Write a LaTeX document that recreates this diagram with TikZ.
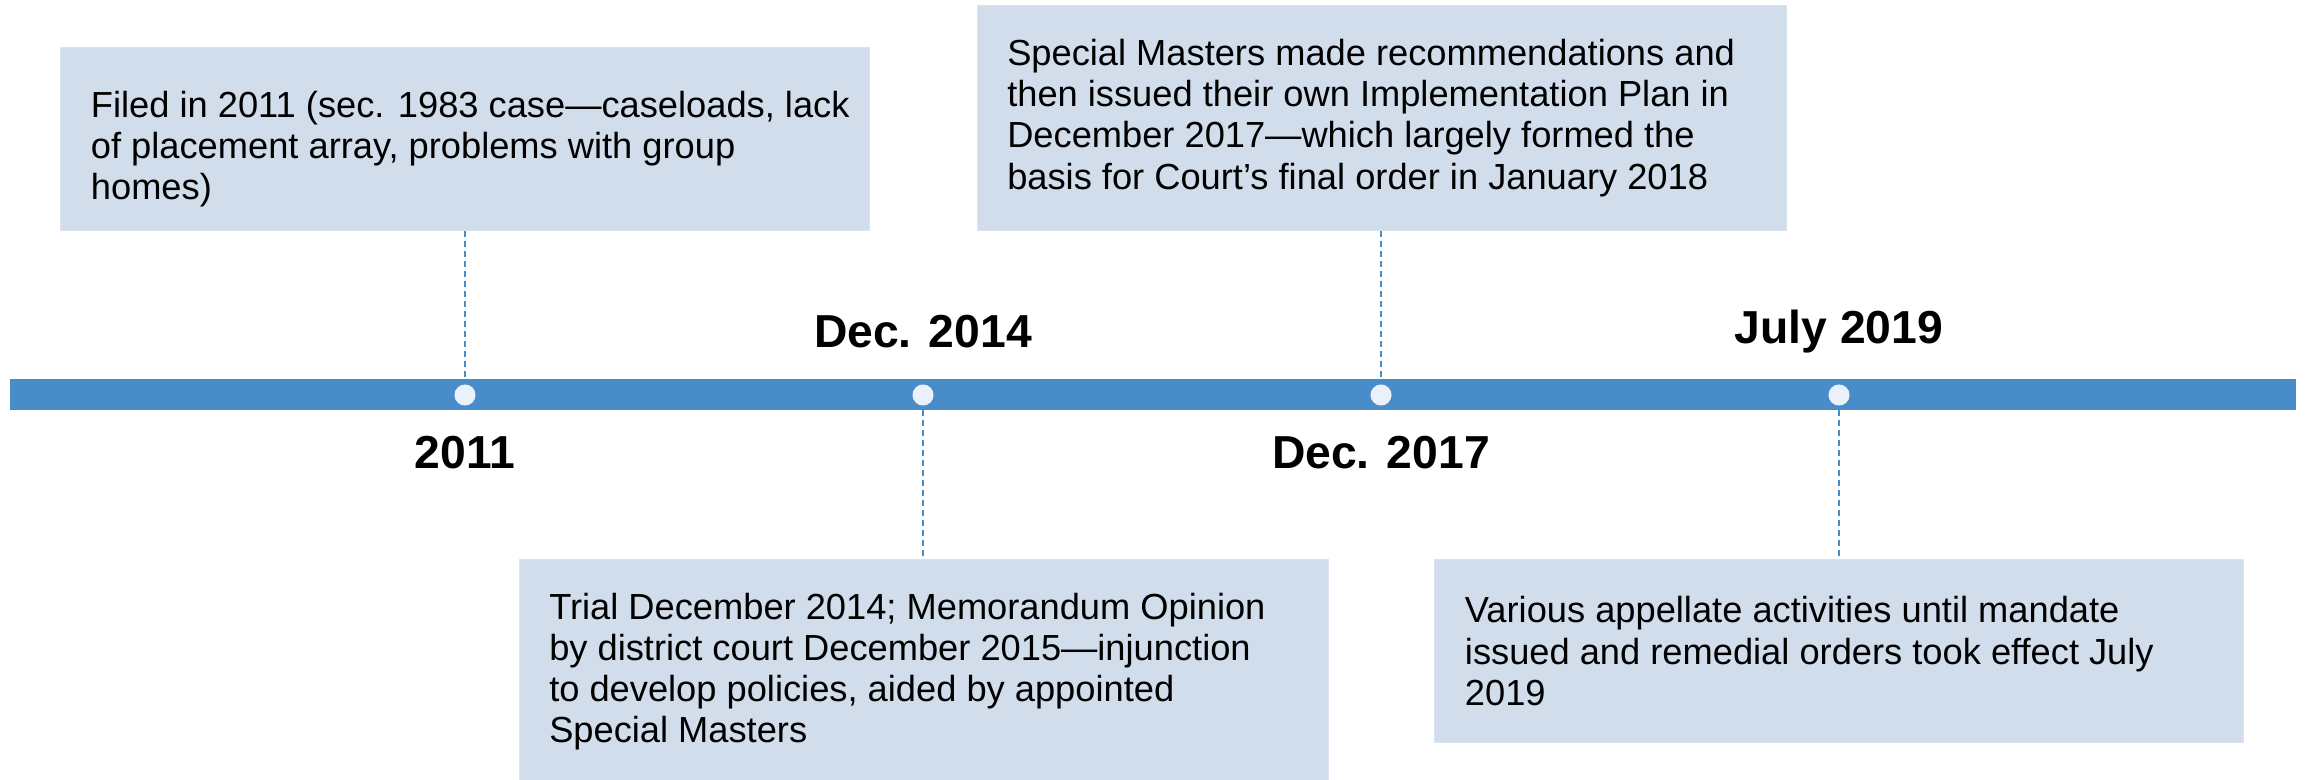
\documentclass[tikz,border=0pt]{standalone}
\usepackage{fontspec}
\setmainfont{Liberation Sans}
\definecolor{barblue}{HTML}{488CCA}
\definecolor{boxfill}{HTML}{D1DDEB}
\definecolor{boxedge}{HTML}{DAE3EF}
\definecolor{dotfill}{HTML}{EAF1FA}
\tikzset{
  evbox/.style={rectangle, fill=boxfill, draw=boxedge, line width=0.8pt, minimum width=606.5pt, inner sep=0pt, anchor=north west},
  evtext/.style={anchor=west, align=left, inner sep=0pt, font=\fontsize{27.2}{30.8}\selectfont, text=black},
  yearlbl/.style={font=\fontsize{34.7}{40}\selectfont\bfseries, text=black, inner sep=0pt},
  dotmark/.style={circle, fill=dotfill, minimum size=15.8pt, inner sep=0pt},
  link/.style={draw=barblue, line width=0.9pt, dash pattern=on 4.5pt off 3pt}
}
\begin{document}
\begin{tikzpicture}[x=0.75pt,y=-0.75pt]
\useasboundingbox (0,0) rectangle (2308,780);
% timeline bar
\fill[barblue] (10,379) rectangle (2296,410);
% dots
\node[dotmark] (d1) at (465,395) {};
\node[dotmark] (d2) at (923,395) {};
\node[dotmark] (d3) at (1381,395) {};
\node[dotmark] (d4) at (1839,395) {};
% boxes
\node[evbox, minimum height=137.25pt] (b1) at (60,47) {};
\node[evbox, minimum height=168.75pt] (b3) at (977,5) {};
\node[evbox, minimum height=168pt] (b2) at (519,559) {};
\node[evbox, minimum height=137.25pt] (b4) at (1434,559) {};
% texts
\node[evtext] (t1) at ([xshift=23pt,yshift=-7.5pt]b1.west) {Filed in 2011 (sec. 1983 case—caseloads, lack\\of placement array, problems with group\\homes)};
\node[evtext] (t3) at ([xshift=22.5pt]b3.west) {Special Masters made recommendations and\\then issued their own Implementation Plan in\\December 2017—which largely formed the\\basis for Court’s final order in January 2018};
\node[evtext] (t2) at ([xshift=22.5pt]b2.west) {Trial December 2014; Memorandum Opinion\\by district court December 2015—injunction\\to develop policies, aided by appointed\\Special Masters};
\node[evtext] (t4) at ([xshift=23pt]b4.west) {Various appellate activities until mandate\\issued and remedial orders took effect July\\2019};
% connectors
\coordinate (c1) at (465,379);
\coordinate (c2) at (923,410);
\coordinate (c3) at (1381,379);
\coordinate (c4) at (1839,410);
\draw[link] (b1.south -| c1) -- (c1);
\draw[link] (c2) -- (b2.north -| c2);
\draw[link] (b3.south -| c3) -- (c3);
\draw[link] (c4) -- (b4.north -| c4);
% year labels
\node[yearlbl] (y1) at (465,453) {2011};
\node[yearlbl] (y2) at (923,332) {Dec. 2014};
\node[yearlbl] (y3) at (1381,453) {Dec. 2017};
\node[yearlbl] (y4) at (1839,332) {July 2019};
\end{tikzpicture}
\end{document}
